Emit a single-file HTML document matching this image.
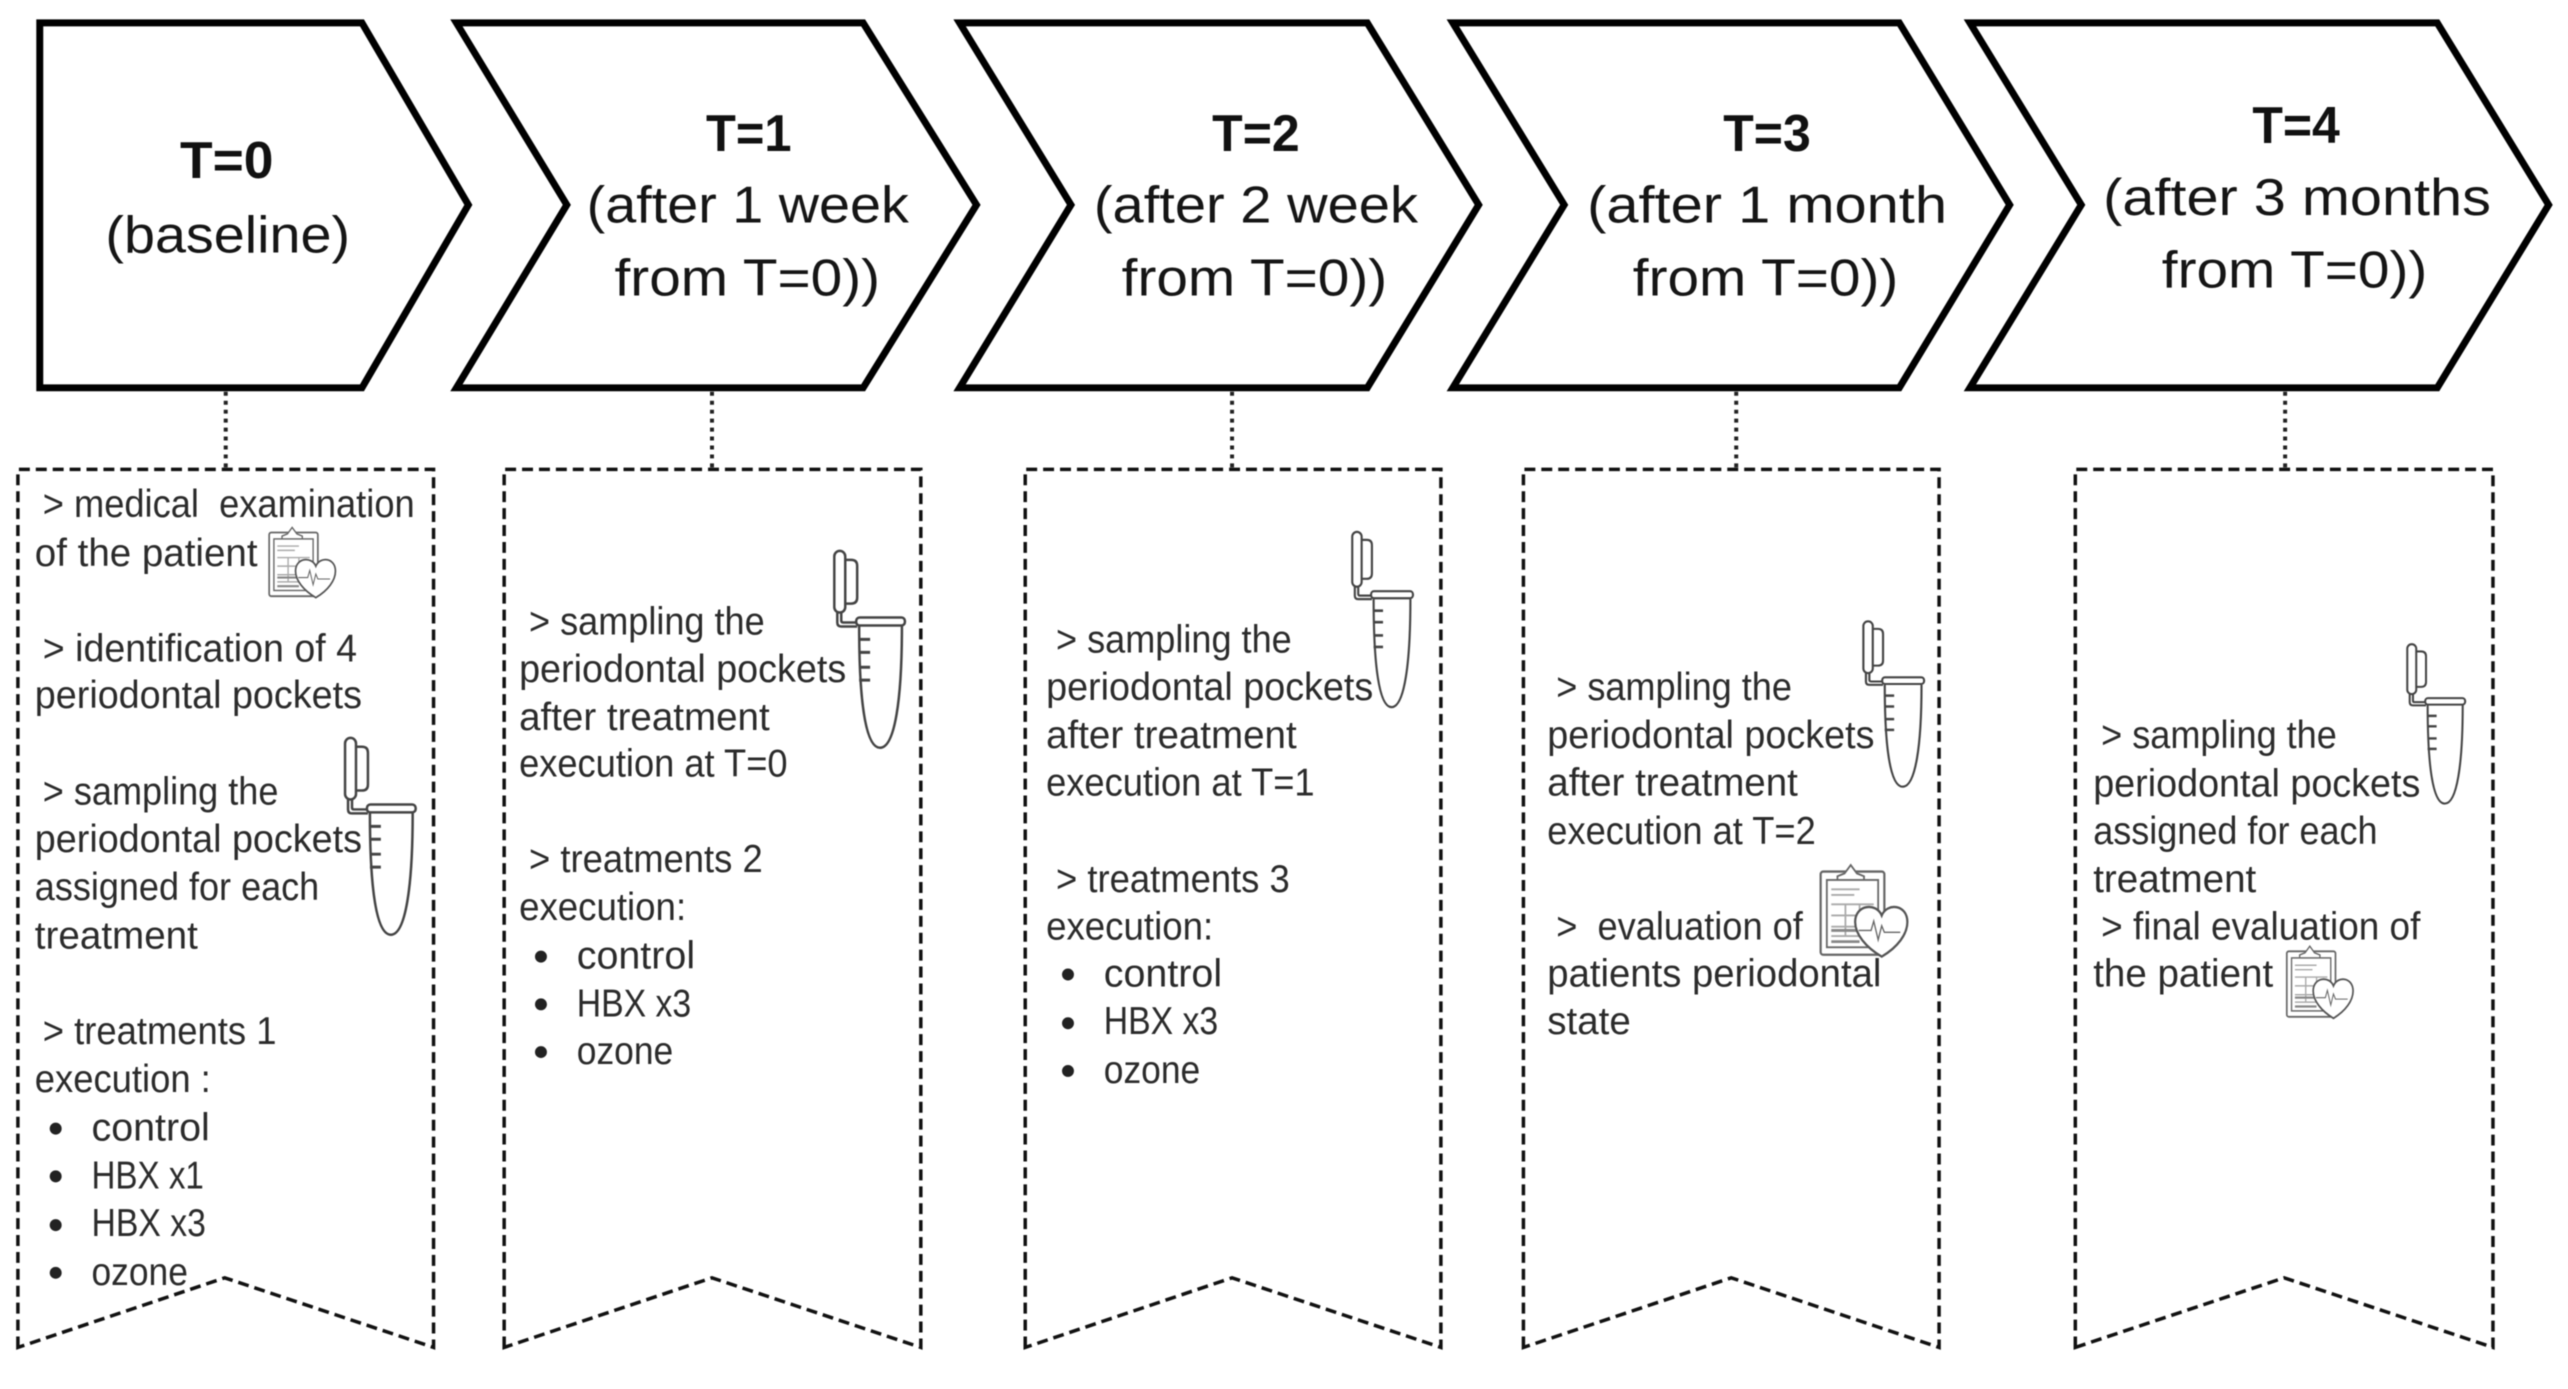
<!DOCTYPE html>
<html><head><meta charset="utf-8">
<style>
html,body{margin:0;padding:0;background:#fff;width:2568px;height:1389px;overflow:hidden}
svg{display:block;filter:blur(.6px)}
text{font-family:"Liberation Sans",sans-serif;fill:#2b2b2b}
.b{font-size:39px;transform:translateY(3px)}
.h{font-size:52px;fill:#151515;transform:translateY(2px)}
.hb{font-size:52px;font-weight:bold;fill:#111;text-anchor:middle;transform:translateY(1px)}
.ch{fill:#fff;stroke:#000;stroke-width:7;stroke-linejoin:miter}
.box{fill:none;stroke:#111;stroke-width:3.5;stroke-dasharray:11 6}
.con{stroke:#222;stroke-width:4;stroke-dasharray:4 5}
</style></head>
<body>
<svg width="2568" height="1389" viewBox="0 0 2568 1389" xmlns="http://www.w3.org/2000/svg">
<defs>
<g id="tube" fill="none" stroke="#444" stroke-width="2.5">
<rect x="1" y="1" width="11" height="62" rx="5.5"/>
<path d="M12 10h6q6 0 6 6v32q0 6-6 6h-6"/>
<path d="M4 63v10q0 4 4 4h16M8 63v8q0 2 2 2h14"/>
<rect x="23" y="68" width="49" height="8" rx="3.5"/>
<path d="M26 77C26 150 32 199 47 199C62 199 69 150 69 77"/>
<path d="M26 90h11M26 103h11M26 118h11M26 131h11" stroke-width="3"/>
</g>
<g id="clip" fill="none" stroke="#666" stroke-width="2">
<rect x="1" y="9" width="72" height="89" rx="3" stroke-width="2.5"/>
<path d="M20 14l8-3 7-9 7 9 8 3v5H20z" fill="#fff"/>
<rect x="8" y="18" width="58" height="72" fill="#fff"/>
<path d="M13 28h32M13 34h26M13 44h48M13 56h48M13 68h48M13 78h48M29 44v34M45 44v34" stroke="#aaa"/>
<path d="M13 72h32M13 84h32" stroke="#888" stroke-width="3"/>
<path d="M70 100C52 90 40 76 40 63C40 44 64 42 70 56C76 42 99 44 99 63C99 76 88 90 70 100Z" fill="#fff" stroke="#555" stroke-width="2.5"/>
<path d="M44 72h14l3-10 5 20 4-15 3 7h18" stroke="#666" stroke-width="1.5"/>
</g>
</defs>
<g transform="scale(.9944)">
<!-- Chevrons -->
<path class="ch" d="M40 23H364L471 206L364 390H40Z"/>
<path class="ch" d="M459 23H868L982 206L868 390H459L570 206Z"/>
<path class="ch" d="M965 23H1375L1487 206L1375 390H965L1077 206Z"/>
<path class="ch" d="M1461 23H1910L2021 206L1910 390H1461L1573 206Z"/>
<path class="ch" d="M1981 23H2451L2563 206L2451 390H1981L2093 206Z"/>

<!-- Heading text -->
<text class="hb" x="228" y="178" textLength="94" lengthAdjust="spacingAndGlyphs">T=0</text>
<text class="h" x="106" y="252" textLength="246" lengthAdjust="spacingAndGlyphs">(baseline)</text>

<text class="hb" x="753" y="151" textLength="86" lengthAdjust="spacingAndGlyphs">T=1</text>
<text class="h" x="590" y="222" textLength="324" lengthAdjust="spacingAndGlyphs">(after 1 week</text>
<text class="h" x="618" y="295" textLength="267" lengthAdjust="spacingAndGlyphs">from T=0))</text>

<text class="hb" x="1263" y="151" textLength="88" lengthAdjust="spacingAndGlyphs">T=2</text>
<text class="h" x="1100" y="222" textLength="326" lengthAdjust="spacingAndGlyphs">(after 2 week</text>
<text class="h" x="1128" y="295" textLength="267" lengthAdjust="spacingAndGlyphs">from T=0))</text>

<text class="hb" x="1777" y="151" textLength="88" lengthAdjust="spacingAndGlyphs">T=3</text>
<text class="h" x="1596" y="222" textLength="362" lengthAdjust="spacingAndGlyphs">(after 1 month</text>
<text class="h" x="1642" y="295" textLength="267" lengthAdjust="spacingAndGlyphs">from T=0))</text>

<text class="hb" x="2309" y="143" textLength="88" lengthAdjust="spacingAndGlyphs">T=4</text>
<text class="h" x="2115" y="214" textLength="390" lengthAdjust="spacingAndGlyphs">(after 3 months</text>
<text class="h" x="2174" y="287" textLength="267" lengthAdjust="spacingAndGlyphs">from T=0))</text>

<!-- Connectors -->
<line class="con" x1="227" y1="394" x2="227" y2="471"/>
<line class="con" x1="716" y1="394" x2="716" y2="471"/>
<line class="con" x1="1239" y1="394" x2="1239" y2="471"/>
<line class="con" x1="1746" y1="394" x2="1746" y2="471"/>
<line class="con" x1="2298" y1="394" x2="2298" y2="471"/>

<!-- Dashed boxes -->
<path class="box" d="M18 1355V472H436V1355L226 1285Z"/>
<path class="box" d="M507 1355V472H926V1355L716 1285Z"/>
<path class="box" d="M1031 1355V472H1449V1355L1239 1285Z"/>
<path class="box" d="M1532 1355V472H1950V1355L1741 1285Z"/>
<path class="box" d="M2087 1355V472H2507V1355L2297 1285Z"/>

<!-- Column 1 -->
<text class="b" x="43" y="517" textLength="374" lengthAdjust="spacingAndGlyphs">&gt; medical&#160; examination</text>
<text class="b" x="35" y="566" textLength="224" lengthAdjust="spacingAndGlyphs">of the patient</text>
<text class="b" x="43" y="662" textLength="316" lengthAdjust="spacingAndGlyphs">&gt; identification of 4</text>
<text class="b" x="35" y="709" textLength="329" lengthAdjust="spacingAndGlyphs">periodontal pockets</text>
<text class="b" x="43" y="806" textLength="237" lengthAdjust="spacingAndGlyphs">&gt; sampling the</text>
<text class="b" x="35" y="854" textLength="329" lengthAdjust="spacingAndGlyphs">periodontal pockets</text>
<text class="b" x="35" y="902" textLength="286" lengthAdjust="spacingAndGlyphs">assigned for each</text>
<text class="b" x="35" y="951" textLength="164" lengthAdjust="spacingAndGlyphs">treatment</text>
<text class="b" x="43" y="1047" textLength="235" lengthAdjust="spacingAndGlyphs">&gt; treatments 1</text>
<text class="b" x="35" y="1095" textLength="177" lengthAdjust="spacingAndGlyphs">execution :</text>
<text class="b" x="92" y="1144" textLength="119" lengthAdjust="spacingAndGlyphs">control</text>
<text class="b" x="92" y="1192" textLength="113" lengthAdjust="spacingAndGlyphs">HBX x1</text>
<text class="b" x="92" y="1240" textLength="115" lengthAdjust="spacingAndGlyphs">HBX x3</text>
<text class="b" x="92" y="1289" textLength="97" lengthAdjust="spacingAndGlyphs">ozone</text>
<g fill="#222" transform="translate(0 2)">
<circle cx="56" cy="1133" r="6"/><circle cx="56" cy="1181" r="6"/><circle cx="56" cy="1230" r="6"/><circle cx="56" cy="1278" r="6"/>
<circle cx="544" cy="960" r="6"/><circle cx="544" cy="1008" r="6"/><circle cx="544" cy="1056" r="6"/>
<circle cx="1074" cy="978" r="6"/><circle cx="1074" cy="1027" r="6"/><circle cx="1074" cy="1075" r="6"/>
</g>

<!-- Column 2 -->
<text class="b" x="532" y="635" textLength="237" lengthAdjust="spacingAndGlyphs">&gt; sampling the</text>
<text class="b" x="522" y="683" textLength="329" lengthAdjust="spacingAndGlyphs">periodontal pockets</text>
<text class="b" x="522" y="731" textLength="252" lengthAdjust="spacingAndGlyphs">after treatment</text>
<text class="b" x="522" y="778" textLength="270" lengthAdjust="spacingAndGlyphs">execution at T=0</text>
<text class="b" x="532" y="874" textLength="235" lengthAdjust="spacingAndGlyphs">&gt; treatments 2</text>
<text class="b" x="522" y="922" textLength="168" lengthAdjust="spacingAndGlyphs">execution:</text>
<text class="b" x="580" y="971" textLength="119" lengthAdjust="spacingAndGlyphs">control</text>
<text class="b" x="580" y="1019" textLength="115" lengthAdjust="spacingAndGlyphs">HBX x3</text>
<text class="b" x="580" y="1067" textLength="97" lengthAdjust="spacingAndGlyphs">ozone</text>

<!-- Column 3 -->
<text class="b" x="1062" y="653" textLength="237" lengthAdjust="spacingAndGlyphs">&gt; sampling the</text>
<text class="b" x="1052" y="701" textLength="329" lengthAdjust="spacingAndGlyphs">periodontal pockets</text>
<text class="b" x="1052" y="749" textLength="252" lengthAdjust="spacingAndGlyphs">after treatment</text>
<text class="b" x="1052" y="797" textLength="270" lengthAdjust="spacingAndGlyphs">execution at T=1</text>
<text class="b" x="1062" y="894" textLength="235" lengthAdjust="spacingAndGlyphs">&gt; treatments 3</text>
<text class="b" x="1052" y="942" textLength="168" lengthAdjust="spacingAndGlyphs">execution:</text>
<text class="b" x="1110" y="989" textLength="119" lengthAdjust="spacingAndGlyphs">control</text>
<text class="b" x="1110" y="1037" textLength="115" lengthAdjust="spacingAndGlyphs">HBX x3</text>
<text class="b" x="1110" y="1086" textLength="97" lengthAdjust="spacingAndGlyphs">ozone</text>

<!-- Column 4 -->
<text class="b" x="1565" y="701" textLength="237" lengthAdjust="spacingAndGlyphs">&gt; sampling the</text>
<text class="b" x="1556" y="749" textLength="329" lengthAdjust="spacingAndGlyphs">periodontal pockets</text>
<text class="b" x="1556" y="797" textLength="252" lengthAdjust="spacingAndGlyphs">after treatment</text>
<text class="b" x="1556" y="846" textLength="270" lengthAdjust="spacingAndGlyphs">execution at T=2</text>
<text class="b" x="1565" y="942" textLength="248" lengthAdjust="spacingAndGlyphs">&gt;&#160; evaluation of</text>
<text class="b" x="1556" y="989" textLength="336" lengthAdjust="spacingAndGlyphs">patients periodontal</text>
<text class="b" x="1556" y="1037" textLength="84" lengthAdjust="spacingAndGlyphs">state</text>

<!-- Column 5 -->
<text class="b" x="2113" y="749" textLength="237" lengthAdjust="spacingAndGlyphs">&gt; sampling the</text>
<text class="b" x="2105" y="798" textLength="329" lengthAdjust="spacingAndGlyphs">periodontal pockets</text>
<text class="b" x="2105" y="846" textLength="286" lengthAdjust="spacingAndGlyphs">assigned for each</text>
<text class="b" x="2105" y="894" textLength="164" lengthAdjust="spacingAndGlyphs">treatment</text>
<text class="b" x="2113" y="942" textLength="321" lengthAdjust="spacingAndGlyphs">&gt; final evaluation of</text>
<text class="b" x="2105" y="989" textLength="181" lengthAdjust="spacingAndGlyphs">the patient</text>

<!-- Tubes -->
<use href="#tube" transform="translate(346 741)"/>
<use href="#tube" transform="translate(838 553)"/>
<use href="#tube" transform="translate(1359 534) scale(.86 .89)"/>
<use href="#tube" transform="translate(1873 624) scale(.86 .84)"/>
<use href="#tube" transform="translate(2420 647) scale(.82 .81)"/>

<!-- Clipboards -->
<use href="#clip" transform="translate(270 529) scale(.68 .72)"/>
<use href="#clip" transform="translate(1830 868) scale(.89 .94)"/>
<use href="#clip" transform="translate(2299 950) scale(.68 .74)"/>
</g>
</svg>
</body></html>
